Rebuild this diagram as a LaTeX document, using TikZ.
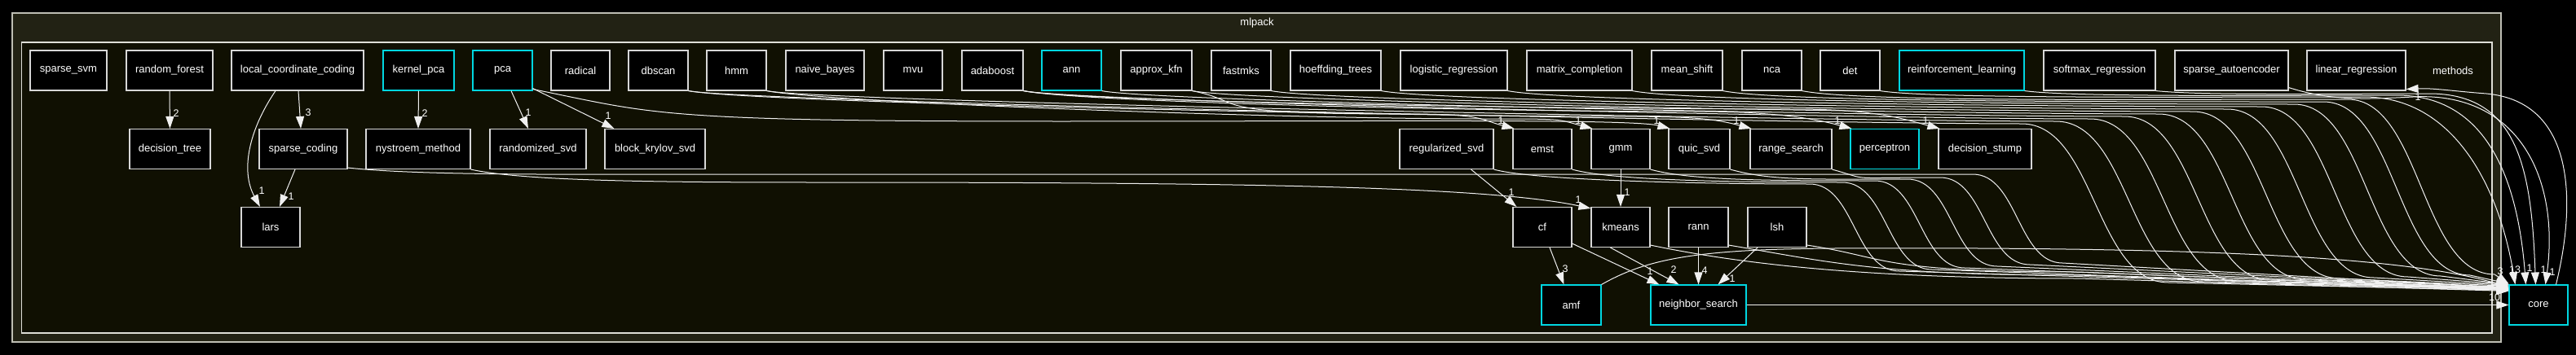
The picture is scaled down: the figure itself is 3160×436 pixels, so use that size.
\documentclass[tikz,border=0pt]{standalone}
\usepackage{fontspec}
\setmainfont{Liberation Sans}
\usetikzlibrary{arrows.meta}
\definecolor{bgouter}{RGB}{34,34,20}
\definecolor{bginner}{RGB}{16,16,2}
\definecolor{outerline}{RGB}{190,190,180}
\definecolor{innerline}{RGB}{222,222,215}
\definecolor{nodeline}{RGB}{215,215,215}
\definecolor{cyanline}{RGB}{0,215,225}
\definecolor{edgec}{RGB}{240,240,240}
\tikzset{
  box/.style={draw=nodeline, fill=black, line width=1.1pt, text=white, minimum height=49pt, inner sep=0pt, font=\fontsize{13}{15}\selectfont},
  cbox/.style={box, draw=cyanline},
  e/.style={draw=edgec, line width=1pt, -{Triangle[length=15pt,width=10pt]}},
  lbl/.style={text=white, inner sep=0pt, font=\fontsize{12.5}{14}\selectfont},
}
% src, ych, xd, yb, yshift
\newcommand\flatcore[5]{%
  \draw[e] (#1.south east) .. controls +(70,14) and +(-250,0) .. ({#3-90},#2) .. controls +(90,0) and +(-90,0) .. ({#3+90},#4) -- ([yshift=#5]core.north west);}
% src, ych, xd, yb, yshift
\newcommand\rowtwocore[5]{%
  \draw[e] (#1.south east) .. controls +(50,14) and +(-120,0) .. ({#3-55},#2) .. controls +(55,0) and +(-55,0) .. ({#3+55},#4) -- ([yshift=#5]core.north west);}
% src, target, xm, ych
\newcommand\totarget[4]{%
  \draw[e] (#1.south east) .. controls +(70,14) and +(-250,0) .. (#3,#4) .. controls +(100,0) and +(-45,-12) .. ([xshift=2pt]#2.north west);}
\begin{document}
\begin{tikzpicture}[x=1pt,y=-1pt]
\fill[black] (0,0) rectangle (3160,436);
\useasboundingbox (0,0) rectangle (3160,436);
\draw[outerline, fill=bgouter, line width=1.5pt] (15,16) rectangle (3068,420);
\draw[innerline, fill=bginner, line width=1.5pt] (26.5,52) rectangle (3057,409);
\node[lbl, font=\fontsize{13}{15}\selectfont] (tmlpack) at (1542,28) {mlpack};
\node[lbl, font=\fontsize{13}{15}\selectfont] (tmethods) at (3009,86.5) {methods};

% row 1
\node[box, minimum width=94pt] (sparse_svm) at (84,86.5) {sparse\_svm};
\node[box, minimum width=106pt] (random_forest) at (208,86.5) {random\_forest};
\node[box, minimum width=162pt] (lcc) at (365,86.5) {local\_coordinate\_coding};
\node[cbox, minimum width=87pt] (kernel_pca) at (513.5,86.5) {kernel\_pca};
\node[cbox, minimum width=73pt] (pca) at (616.5,86.5) {pca};
\node[box, minimum width=72pt] (radical) at (712,86.5) {radical};
\node[box, minimum width=73pt] (dbscan) at (807.5,86.5) {dbscan};
\node[box, minimum width=73pt] (hmm) at (903.5,86.5) {hmm};
\node[box, minimum width=96pt] (naive_bayes) at (1012,86.5) {naive\_bayes};
\node[box, minimum width=72pt] (mvu) at (1120,86.5) {mvu};
\node[box, minimum width=75pt] (adaboost) at (1217.5,86.5) {adaboost};
\node[cbox, minimum width=73pt] (ann) at (1314.5,86.5) {ann};
\node[box, minimum width=87pt] (approx_kfn) at (1418.5,86.5) {approx\_kfn};
\node[box, minimum width=73pt] (fastmks) at (1522.5,86.5) {fastmks};
\node[box, minimum width=111pt] (hoeffding_trees) at (1638.5,86.5) {hoeffding\_trees};
\node[box, minimum width=131pt] (logistic_regression) at (1783.5,86.5) {logistic\_regression};
\node[box, minimum width=129pt] (matrix_completion) at (1937.5,86.5) {matrix\_completion};
\node[box, minimum width=87pt] (mean_shift) at (2069.5,86.5) {mean\_shift};
\node[box, minimum width=73pt] (nca) at (2173.5,86.5) {nca};
\node[box, minimum width=73pt] (det) at (2269.5,86.5) {det};
\node[cbox, minimum width=153pt] (reinforcement_learning) at (2406.5,86.5) {reinforcement\_learning};
\node[box, minimum width=137pt] (softmax_regression) at (2575.5,86.5) {softmax\_regression};
\node[box, minimum width=139pt] (sparse_autoencoder) at (2737.5,86.5) {sparse\_autoencoder};
\node[box, minimum width=121pt] (linear_regression) at (2890.5,86.5) {linear\_regression};

% row 2
\node[box, minimum width=99pt] (decision_tree) at (208.5,183) {decision\_tree};
\node[box, minimum width=108pt] (sparse_coding) at (372,183) {sparse\_coding};
\node[box, minimum width=128pt] (nystroem_method) at (513,183) {nystroem\_method};
\node[box, minimum width=118pt] (randomized_svd) at (660,183) {randomized\_svd};
\node[box, minimum width=123pt] (block_krylov_svd) at (803.5,183) {block\_krylov\_svd};
\node[box, minimum width=115pt] (regularized_svd) at (1774.5,183) {regularized\_svd};
\node[box, minimum width=72pt] (emst) at (1892,183) {emst};
\node[box, minimum width=72pt] (gmm) at (1988,183) {gmm};
\node[box, minimum width=75pt] (quic_svd) at (2084.5,183) {quic\_svd};
\node[box, minimum width=100pt] (range_search) at (2197,183) {range\_search};
\node[cbox, minimum width=84pt] (perceptron) at (2312,183) {perceptron};
\node[box, minimum width=114pt] (decision_stump) at (2435,183) {decision\_stump};

% row 3
\node[box, minimum width=72pt] (lars) at (332,279) {lars};
\node[box, minimum width=72pt] (cf) at (1892,279) {cf};
\node[box, minimum width=72pt] (kmeans) at (1988,279) {kmeans};
\node[box, minimum width=73pt] (rann) at (2083.5,279) {rann};
\node[box, minimum width=72pt] (lsh) at (2180,279) {lsh};

% row 4
\node[cbox, minimum width=73pt] (amf) at (1927.5,374.5) {amf};
\node[cbox, minimum width=117pt] (neighbor_search) at (2083.5,374.5) {neighbor\_search};
\node[cbox, minimum width=72pt] (core) at (3114,374.5) {core};

% local edges
\draw[e] (random_forest.south) -- (decision_tree.north);
\node[lbl] (l1) at (216,139) {2};
\draw[e] ([xshift=1pt]lcc.south) -- ([xshift=-3pt]sparse_coding.north);
\node[lbl] (l2) at (378,138) {3};
\draw[e] ([xshift=-27pt]lcc.south) .. controls (305,160) and (295,210) .. ([xshift=-13pt]lars.north);
\node[lbl] (l3) at (321,234) {1};
\draw[e] ([xshift=-10pt]sparse_coding.south) -- ([xshift=11pt]lars.north);
\node[lbl] (l4) at (357,241) {1};
\draw[e] (kernel_pca.south) -- (nystroem_method.north);
\node[lbl] (l5) at (521,139) {2};
\draw[e] ([xshift=10.5pt]pca.south) -- ([xshift=-12pt]randomized_svd.north);
\node[lbl] (l6) at (648,138) {1};
\draw[e] ([yshift=3pt]pca.south east) -- ([xshift=12pt]block_krylov_svd.north west);
\node[lbl] (l7) at (746,142) {1};

% top row -> row 2 targets
\draw[e] ([yshift=2pt]pca.south east) .. controls +(150,30) and +(-500,0) .. (1300,149) .. controls +(400,0) and +(-45,-12) .. ([xshift=2pt]quic_svd.north west);
\totarget{approx_kfn}{emst}{1720}{140}
\totarget{hmm}{gmm}{1820}{146}
\totarget{dbscan}{range_search}{1980}{143}
\totarget{adaboost}{perceptron}{2080}{137}
\totarget{adaboost}{decision_stump}{2200}{134}
\node[lbl] (l8) at (1841,148) {1};
\node[lbl] (l9) at (1936,148) {1};
\node[lbl] (l10) at (2032,148) {1};
\node[lbl] (l11) at (2130,148) {1};
\node[lbl] (l12) at (2254,148) {1};
\node[lbl] (l13) at (2362,148) {1};

% row 2 / row 3 local
\draw[e] ([xshift=30pt]regularized_svd.south) -- ([xshift=5pt]cf.north west);
\node[lbl] (l14) at (1854,236) {1};
\draw[e] (gmm.south) -- (kmeans.north);
\node[lbl] (l15) at (1996,236) {1};
\draw[e] (nystroem_method.south east) .. controls (640,222) and (800,224) .. (1000,224) .. controls (1500,224) and (1820,228) .. ([yshift=-2pt]kmeans.north west);
\node[lbl] (l16) at (1936,245) {1};
\draw[e] ([xshift=9pt]cf.south) -- ([xshift=-9pt]amf.north);
\node[lbl] (l17) at (1920,330) {3};
\draw[e] ([yshift=5pt]cf.south east) -- ([xshift=11pt]neighbor_search.north west);
\node[lbl] (l18) at (2024,333) {1};
\draw[e] ([xshift=24pt]kmeans.south west) -- ([xshift=-24pt]neighbor_search.north);
\node[lbl] (l19) at (2053,331) {2};
\draw[e] (rann.south) -- (neighbor_search.north);
\node[lbl] (l20) at (2091,332) {4};
\draw[e] ([xshift=-24pt]lsh.south) -- ([xshift=24pt]neighbor_search.north);
\node[lbl] (l21) at (2125,342) {1};

% top row -> core (flat approach)
\flatcore{dbscan}{152}{2570}{347}{-7pt}
\flatcore{hmm}{149}{2612}{346}{-6pt}
\flatcore{adaboost}{146}{2654}{345}{-5pt}
\flatcore{ann}{143}{2696}{344}{-4pt}
\flatcore{approx_kfn}{140}{2738}{343}{-3pt}
\flatcore{fastmks}{137}{2780}{342}{-2pt}
\flatcore{hoeffding_trees}{134}{2822}{341}{-1pt}
\flatcore{logistic_regression}{131}{2864}{340}{0pt}
\flatcore{matrix_completion}{128}{2904}{339}{0pt}
\flatcore{mean_shift}{125}{2940}{338}{1pt}
\flatcore{nca}{122}{2970}{337}{1pt}

% top row -> core (into top)
\draw[e] (det.south east) .. controls +(60,10) and +(-200,0) .. (2900,119) .. controls +(110,0) and +(-20,-120) .. ([xshift=8pt]core.north west);
\draw[e] (reinforcement_learning.south east) .. controls +(60,8) and +(-150,0) .. (2940,117) .. controls +(110,0) and +(-10,-130) .. ([xshift=21pt]core.north west);
\draw[e] (softmax_regression.south east) .. controls +(60,6) and +(-120,0) .. (2980,115) .. controls +(110,0) and +(-5,-140) .. ([xshift=33pt]core.north west);
\draw[e] ([yshift=4pt]sparse_autoencoder.south east) .. controls (2860,124) and (2900,122) .. (2960,119) .. controls (3090,112) and (3140,220) .. ([xshift=45pt]core.north west);
\draw[e] ([xshift=58pt]core.north west) .. controls (3160,250) and (3160,125) .. (3050,115) .. controls (3010,112) and (2985,108) .. ([yshift=2pt]linear_regression.south east);
\node[lbl] (l22) at (2966,119) {1};

% row 2 -> core
\rowtwocore{regularized_svd}{226}{2275}{333}{-6pt}
\rowtwocore{emst}{224}{2315}{331}{-6pt}
\rowtwocore{gmm}{222}{2355}{329}{-5pt}
\rowtwocore{quic_svd}{220}{2395}{327}{-5pt}
\rowtwocore{range_search}{218}{2435}{325}{-4pt}
\draw[e] ([yshift=2pt]sparse_coding.south east) .. controls (520,216) and (700,214) .. (900,214) -- (2420,214) .. controls +(55,0) and +(-55,0) .. (2530,323) -- ([yshift=-4pt]core.north west);

% row 3 / row 4 -> core
\draw[e] ([yshift=3pt]kmeans.south east) .. controls +(120,25) and +(-250,0) .. (2550,342) -- ([yshift=-8pt]core.north west);
\draw[e] ([yshift=3pt]rann.south east) .. controls +(120,20) and +(-250,0) .. (2550,338) -- ([yshift=-7pt]core.north west);
\draw[e] ([yshift=3pt]lsh.south east) .. controls +(100,15) and +(-250,0) .. (2550,334) -- ([yshift=-6pt]core.north west);
\draw[e] (amf.north east) .. controls (2020,318) and (2080,306) .. (2250,305) .. controls (2700,303) and (2950,315) .. ([yshift=-3pt]core.north west);
\draw[e] (neighbor_search.east) -- (core.west);

% labels at core
\node[lbl] (l23) at (3060,365) {10};
\node[lbl] (l24) at (3067,333) {3};
\node[lbl] (l25) at (3085,331) {13};
\node[lbl] (l26) at (3103,329) {1};
\node[lbl] (l27) at (3120,331) {1};
\node[lbl] (l28) at (3131,334) {1};
\end{tikzpicture}
\end{document}
